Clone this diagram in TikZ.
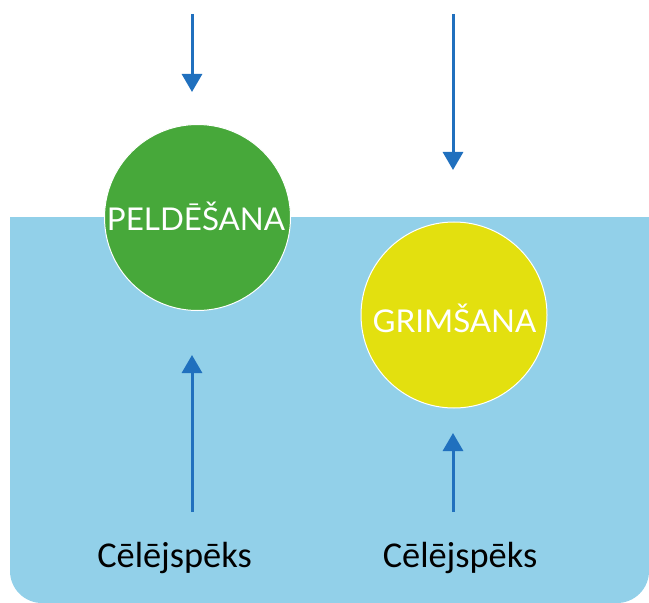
\documentclass[tikz,border=0pt]{standalone}
\usepackage{fontspec}
\setmainfont{Carlito}
\newfontfamily\circfont{Lato}
\usetikzlibrary{arrows.meta}
\definecolor{water}{HTML}{92D0E9}
\definecolor{floatgreen}{HTML}{47A83A}
\definecolor{sinkyellow}{HTML}{E3E00F}
\definecolor{arrowblue}{HTML}{2070BE}
\tikzset{
  ball/.style={circle, draw=white, line width=1bp, minimum size=186bp, inner sep=0pt},
  balltext/.style={font=\circfont\fontsize{31.5}{31.5}\selectfont, text=white, inner sep=0pt, anchor=base},
  forcearrow/.style={draw=arrowblue, line width=3bp, -{Triangle[width=20bp,length=18bp]}},
  forcelabel/.style={font=\fontsize{36.5}{36.5}\selectfont, text=black, inner sep=0pt, anchor=base}
}
\begin{document}
\begin{tikzpicture}[x=1bp,y=-1bp]
\useasboundingbox (0,0) rectangle (649,603);
% water
\fill[water, rounded corners=32bp] (10,217) -- (649,217) -- (649,603) -- (10,603) -- cycle;
\fill[water] (10,217) rectangle (649,260);
% balls
\node[ball, fill=floatgreen] (float) at (197.5,217.5) {};
\node[balltext] (floattext) at (196,230) {PELDĒŠANA};
\node[ball, fill=sinkyellow] (sink) at (454,315) {};
\node[balltext] (sinktext) at (454.5,332) {GRIMŠANA};
% top arrows
\coordinate (t1s) at (192,14);
\coordinate (t1e) at (192,92);
\coordinate (t2s) at (453,14);
\coordinate (t2e) at (453,170);
\draw[forcearrow] (t1s) -- (t1e);
\draw[forcearrow] (t2s) -- (t2e);
% bottom arrows
\coordinate (b1s) at (192,512);
\coordinate (b1e) at (192,355);
\coordinate (b2s) at (453,512);
\coordinate (b2e) at (453,433);
\draw[forcearrow] (b1s) -- (b1e);
\draw[forcearrow] (b2s) -- (b2e);
% labels
\node[forcelabel] (l1) at (174.5,567) {Cēlējspēks};
\node[forcelabel] (l2) at (460,567) {Cēlējspēks};
\end{tikzpicture}
\end{document}
